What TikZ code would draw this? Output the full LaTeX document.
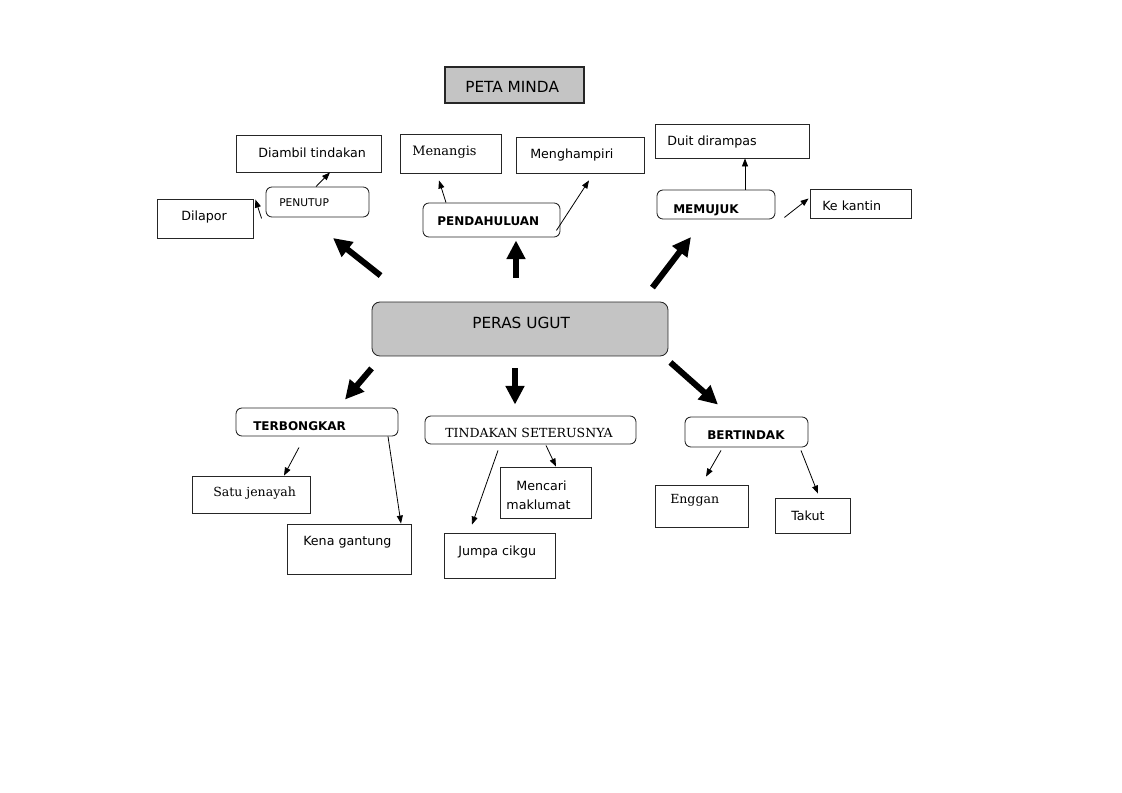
\documentclass[tikz,border=0pt]{standalone}
\usepackage{fontspec}
\setmainfont{DejaVu Sans}
\newfontfamily\serifdv{DejaVu Serif}
\usetikzlibrary{arrows.meta,patterns.meta,fit,calc}
\begin{document}
\begin{tikzpicture}[x=0.75pt,y=-0.75pt,
  box/.style={draw=black!85, line width=0.65pt, inner sep=0pt},
  rbox/.style={box, rounded corners=4.5pt},
  txt/.style={anchor=base west, inner sep=0pt, font=\fontsize{9.5}{11}\selectfont},
  stxt/.style={txt, font=\serifdv\fontsize{9.4}{11}\selectfont},
  btxt/.style={txt, font=\bfseries\fontsize{9}{11}\selectfont},
  ttxt/.style={txt, font=\fontsize{11.5}{13}\selectfont},
  thinarrow/.style={-{Triangle[length=6pt,width=4.5pt]}, line width=0.6pt},
  bigarrow/.style={-{Triangle[length=14pt,width=13.5pt]}, line width=4.5pt},
  dotfill/.style={pattern={Dots[distance=1.5pt,radius=0.4pt]}, pattern color=black}
]
\useasboundingbox (0,0) rectangle (1122,793);

% title
\node[box, dotfill, line width=2pt, fit={(445,67) (584,103)}] (title) {};
\node[ttxt] (titleT) at (465,92) {PETA MINDA};

% central
\node[rbox, dotfill, rounded corners=6pt, fit={(372,302) (668,356)}] (peras) {};
\node[ttxt] (perasT) at (472,328) {PERAS UGUT};

% upper left
\node[box, fit={(236,135) (381,172)}] (diambil) {};
\node[txt] (diambilT) at (258,157) {Diambil tindakan};
\node[rbox, fit={(266,187) (369,217)}] (penutup) {};
\node[txt, font=\fontsize{8}{10}\selectfont] (penutupT) at (279,206) {PENUTUP};
\node[box, fit={(157,199) (253,238)}] (dilapor) {};
\node[txt] (dilaporT) at (181,220) {Dilapor};

% upper middle
\node[box, fit={(400,134) (501,173)}] (menangis) {};
\node[stxt, font=\serifdv\fontsize{9.7}{11}\selectfont] (menangisT) at (412,155) {Menangis};
\node[box, fit={(516,137) (644,173)}] (menghampiri) {};
\node[txt] (menghampiriT) at (530,158) {Menghampiri};
\node[rbox, fit={(423,203) (560,237)}] (pend) {};
\node[btxt] (pendT) at (437,225) {PENDAHULUAN};

% upper right
\node[box, fit={(655,124) (809,158)}] (duit) {};
\node[txt] (duitT) at (667,145) {Duit dirampas};
\node[rbox, fit={(657,190) (775,219)}] (memujuk) {};
\node[btxt] (memujukT) at (673,213) {MEMUJUK};
\node[box, fit={(810,189) (911,218)}] (kantin) {};
\node[txt] (kantinT) at (822,210) {Ke kantin};

% lower left
\node[rbox, fit={(236,408) (398,436)}] (ter) {};
\node[btxt] (terT) at (253,430) {TERBONGKAR};
\node[box, fit={(192,476) (310,513)}] (satu) {};
\node[stxt] (satuT) at (213,496) {Satu jenayah};
\node[box, fit={(287,524) (411,574)}] (kena) {};
\node[txt] (kenaT) at (303,545) {Kena gantung};

% lower middle
\node[rbox, fit={(425,416) (636,444)}] (tind) {};
\node[stxt] (tindT) at (445,437) {TINDAKAN SETERUSNYA};
\node[box, fit={(500,467) (591,518)}] (mencari) {};
\node[txt, anchor=base] (mencariT1) at (541.5,490) {Mencari};
\node[txt, anchor=base] (mencariT2) at (538.5,509) {maklumat};
\node[box, fit={(444,533) (555,578)}] (jumpa) {};
\node[txt] (jumpaT) at (458,555) {Jumpa cikgu};

% lower right
\node[rbox, fit={(685,417) (808,447)}] (bert) {};
\node[btxt] (bertT) at (707,439) {BERTINDAK};
\node[box, fit={(655,485) (748,527)}] (enggan) {};
\node[stxt] (engganT) at (670,503) {Enggan};
\node[box, fit={(775,498) (850,533)}] (takut) {};
\node[txt] (takutT) at (791,520) {Takut};

% big arrows from centre
\coordinate (tipUL) at (333,238);
\coordinate (tipUR) at (691,237);
\draw[bigarrow] ($(peras.north west)+(9,-26)$) -- (tipUL);
\draw[bigarrow] ($(516,0 |- peras.north)+(0,-24)$) -- ($(516,0 |- pend.south)+(0,3)$);
\draw[bigarrow] ($(peras.north east)+(-16,-14)$) -- (tipUR);
\draw[bigarrow] ($(peras.south west)+(0,12)$) -- ($(345,0 |- ter.north)+(0,-8)$);
\draw[bigarrow] ($(515,0 |- peras.south)+(0,12)$) -- ($(515,0 |- tind.north)+(0,-11)$);
\draw[bigarrow] ($(peras.south east)+(2,6)$) -- ($(718,0 |- bert.north)+(0,-12)$);

% thin arrows
\draw[thinarrow] (316,0 |- penutup.north) -- (330,0 |- diambil.south);
\draw[thinarrow] ($(penutup.south west)+(-4,1)$) -- ($(dilapor.north east)+(2,1)$);
\draw[thinarrow] (446,0 |- pend.north) -- ($(439,0 |- menangis.south)+(0,7)$);
\draw[thinarrow] ($(pend.south east)+(-4,-7)$) -- ($(589,0 |- menghampiri.south)+(0,7)$);
\draw[thinarrow] (745,0 |- memujuk.north) -- (745,0 |- duit.south);
\draw[thinarrow] ($(memujuk.south east)+(9,-2)$) -- ($(kantin.west)+(-1,-5)$);
\draw[thinarrow] ($(299,0 |- ter.south)+(0,11)$) -- (284,0 |- satu.north);
\draw[thinarrow] (388,0 |- ter.south) -- (401,0 |- kena.north);
\draw[thinarrow] ($(546,0 |- tind.south)+(0,1)$) -- (556,0 |- mencari.north);
\draw[thinarrow] ($(498,0 |- tind.south)+(0,6)$) -- ($(472,0 |- jumpa.north)+(0,-8)$);
\draw[thinarrow] ($(721,0 |- bert.south)+(0,3)$) -- ($(706,0 |- enggan.north)+(0,-8)$);
\draw[thinarrow] ($(801,0 |- bert.south)+(0,3)$) -- ($(818,0 |- takut.north)+(0,-4)$);
\end{tikzpicture}
\end{document}
